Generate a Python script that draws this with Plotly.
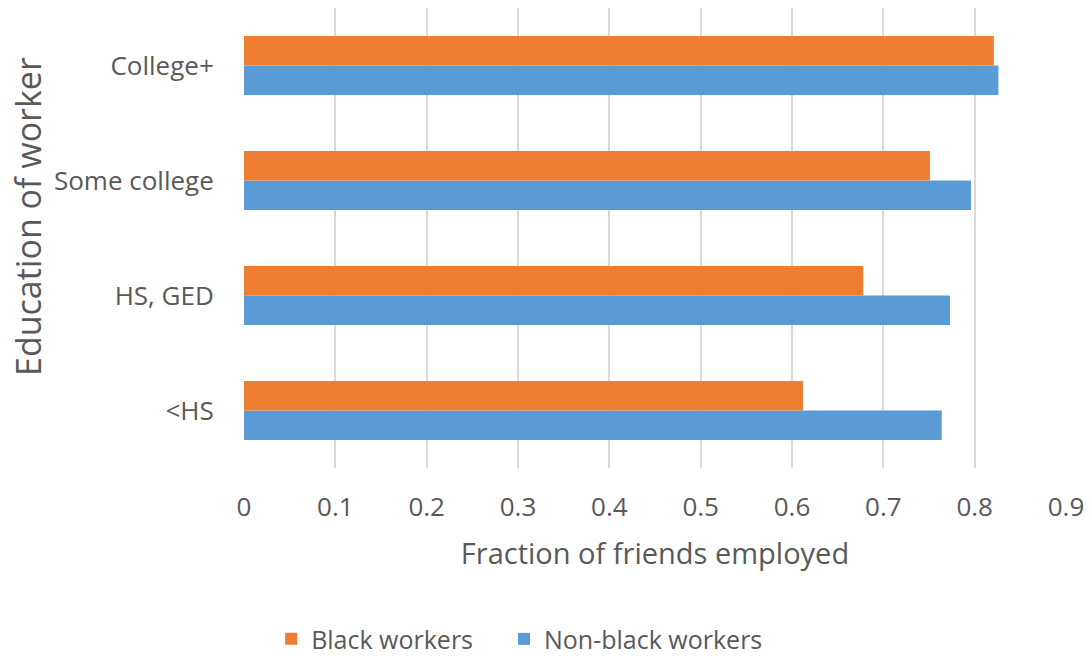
import plotly.graph_objects as go

# Education groups, bottom to top
categories = ["<HS", "HS, GED", "Some college", "College+"]
black_workers = [0.612, 0.678, 0.751, 0.821]
nonblack_workers = [0.764, 0.773, 0.796, 0.826]
x_ticks = [0, 0.1, 0.2, 0.3, 0.4, 0.5, 0.6, 0.7, 0.8, 0.9]
x_tick_labels = ["0", "0.1", "0.2", "0.3", "0.4", "0.5", "0.6", "0.7", "0.8", "0.9"]

FONT = "Open Sans"
TEXT = "#595959"

fig = go.Figure()
# Non-black first so it sits lower in each group; black drawn above it
fig.add_trace(go.Bar(
    y=categories, x=nonblack_workers, orientation="h",
    name="Non-black workers", marker=dict(color="#5B9BD5", line=dict(width=0)),
    legend="legend2",
))
fig.add_trace(go.Bar(
    y=categories, x=black_workers, orientation="h",
    name="Black workers", marker=dict(color="#ED7D31", line=dict(width=0)),
    legend="legend",
))

legend_style = dict(
    orientation="h", xanchor="left", y=-0.372, yanchor="middle",
    font=dict(size=25, color=TEXT), itemwidth=30,
)

fig.update_layout(
    width=1091, height=657,
    margin=dict(l=244, r=25, t=8, b=189, autoexpand=False),
    paper_bgcolor="white", plot_bgcolor="white",
    barmode="group", bargap=0.487, bargroupgap=0,
    font=dict(family=FONT, color=TEXT, size=22),
    legend=dict(x=0.033, **legend_style),
    legend2=dict(x=0.3163, **legend_style),
    showlegend=True,
)
fig.update_xaxes(
    range=[0, 0.9], tickvals=x_ticks, ticktext=x_tick_labels,
    showgrid=True, gridcolor="#D9D9D9", gridwidth=2,
    zeroline=False, showline=False, automargin=False,
    ticks="outside", ticklen=0, ticklabelstandoff=16,
    tickfont=dict(size=26, color=TEXT),
    title=dict(text="Fraction of friends employed", font=dict(size=29, color=TEXT), standoff=20),
)
fig.update_yaxes(
    categoryorder="array", categoryarray=categories,
    showgrid=False, zeroline=False, showline=False, automargin=False,
    ticks="outside", ticklen=0, ticklabelstandoff=24,
    tickfont=dict(size=26, color=TEXT),
)
# Vertical axis title, placed a little above the plot's centre
fig.add_annotation(
    text="Education of worker", textangle=-90,
    xref="paper", yref="paper", x=(28 - 244) / 822, y=(468 - 217) / 460,
    xanchor="center", yanchor="middle", showarrow=False,
    font=dict(size=34, color=TEXT, family=FONT),
)

fig.write_html("out.html")
